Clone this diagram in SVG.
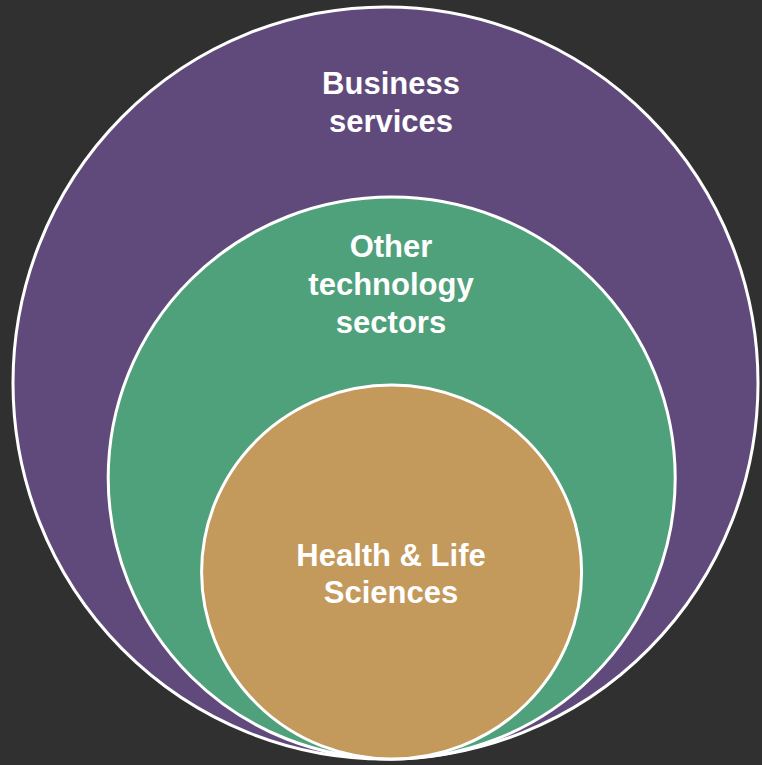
<svg xmlns="http://www.w3.org/2000/svg" width="762" height="765" viewBox="0 0 762 765">
<style>
.c{stroke:#ffffff;stroke-width:3}
.t{font-family:"Liberation Sans",Arial,sans-serif;font-weight:bold;font-size:31px;fill:#ffffff;text-anchor:middle}
</style>
<rect x="0" y="0" width="762" height="765" fill="#303030"/>
<g id="business">
<ellipse class="c" cx="385.5" cy="383" rx="372.5" ry="376" fill="#604a7b"/>
<text class="t" x="391" y="94">Business</text>
<text class="t" x="391" y="132">services</text>
</g>
<g id="other-tech">
<ellipse class="c" cx="391.7" cy="478" rx="283.5" ry="281" fill="#4fa17c"/>
<text class="t" x="391" y="257">Other</text>
<text class="t" x="391" y="295">technology</text>
<text class="t" x="391" y="333">sectors</text>
</g>
<g id="health">
<ellipse class="c" cx="391.6" cy="572" rx="190" ry="187" fill="#c3995c"/>
<text class="t" x="391" y="566">Health &amp; Life</text>
<text class="t" x="391" y="603">Sciences</text>
</g>
<g id="connectors"/>
</svg>
